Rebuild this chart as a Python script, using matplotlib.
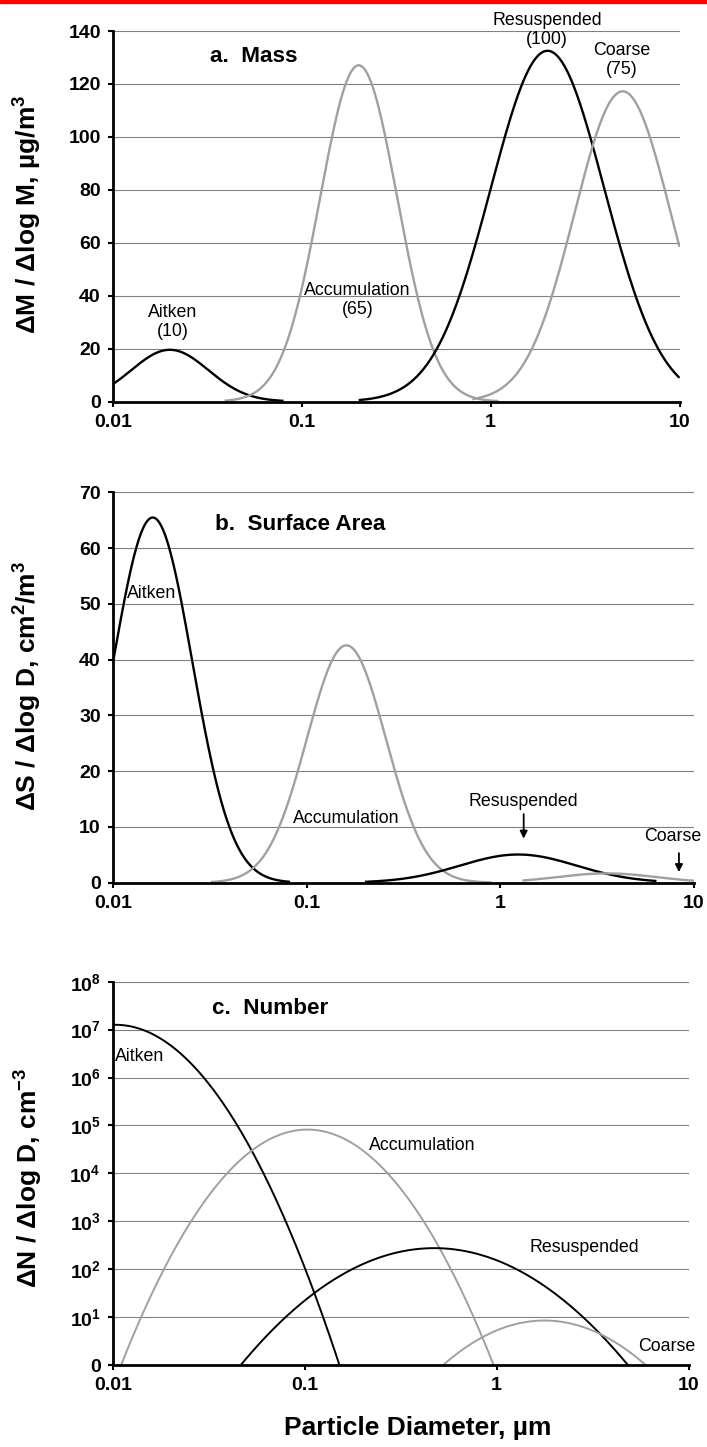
import numpy as np
import matplotlib
matplotlib.use("Agg")
import matplotlib.pyplot as plt
from matplotlib.ticker import NullLocator
from matplotlib.patches import Rectangle

plt.rcParams['font.family'] = ['Liberation Sans', 'DejaVu Sans']
plt.rcParams['mathtext.fontset'] = 'custom'
plt.rcParams['mathtext.rm'] = 'Liberation Sans'
plt.rcParams['mathtext.bf'] = 'Liberation Sans:bold'
plt.rcParams['mathtext.default'] = 'bf'

# ---- lognormal aerosol modes ----
modes = ["Aitken", "Accumulation", "Resuspended", "Coarse"]
mass_conc = [10, 65, 100, 75]            # µg/m³ in each mode
mass_median_d = [0.02, 0.2, 2.0, 5.0]    # mass median diameter, µm
geo_std = [1.6, 1.6, 2.0, 1.8]           # geometric standard deviation
particle_density = 1.0                   # g/cm³
mode_colors = ["black", "#a0a0a0", "black", "#a0a0a0"]

# diameter range (µm) over which each mode is drawn, per panel
mass_span = [(0.01, 0.08), (0.039, 1.1), (0.2, 10.0), (0.8, 10.0)]
surface_span = [(0.01, 0.082), (0.032, 0.9), (0.2, 6.4), (1.3, 10.0)]
number_span = [(0.01, 10.0), (0.01, 10.0), (0.01, 10.0), (0.01, 10.0)]

size_ticks = [0.01, 0.1, 1, 10]
size_tick_labels = ["0.01", "0.1", "1", "10"]
mass_ticks = [0, 20, 40, 60, 80, 100, 120, 140]
surface_ticks = [0, 10, 20, 30, 40, 50, 60, 70]
number_ticks = [1, 1e1, 1e2, 1e3, 1e4, 1e5, 1e6, 1e7, 1e8]
number_tick_labels = ["0"] + [f"$10^{{{k}}}$" for k in range(1, 9)]


def lognormal(d, total, median, sg):
    s = np.log10(sg)
    return total / (np.sqrt(2 * np.pi) * s) * np.exp(-0.5 * (np.log10(d / median) / s) ** 2)


def mass_mode(d, i):
    return lognormal(d, mass_conc[i], mass_median_d[i], geo_std[i])


def surface_mode(d, i):
    ln2 = np.log(geo_std[i]) ** 2
    vol = mass_conc[i] * 1e-6 / particle_density            # cm³/m³
    d_sauter = mass_median_d[i] * 1e-4 * np.exp(-0.5 * ln2)  # cm
    total = 6.0 * vol / d_sauter                             # cm²/m³
    median = mass_median_d[i] * np.exp(-ln2)
    return lognormal(d, total, median, geo_std[i])


def number_mode(d, i):
    ln2 = np.log(geo_std[i]) ** 2
    vol = mass_conc[i] * 1e-6 / particle_density            # cm³/m³
    dn = mass_median_d[i] * np.exp(-3 * ln2)                 # µm
    total = vol / (np.pi / 6 * (dn * 1e-4) ** 3 * np.exp(4.5 * ln2)) / 1e6  # cm⁻³
    return lognormal(d, total, dn, geo_std[i])


W, H = 707, 1447
fig = plt.figure(figsize=(W / 100, H / 100), dpi=100)
fig.patch.set_facecolor('white')
fig.patches.append(Rectangle((0, 1 - 2.5 / H), 1, 2.5 / H, transform=fig.transFigure,
                             color='#ff0000', zorder=10))


def make_axes(left, right, top, bottom):
    return fig.add_axes([left / W, 1 - bottom / H, (right - left) / W, (bottom - top) / H])


def style(ax, yticks, ylabels):
    ax.set_xscale('log')
    ax.set_xlim(0.01, 10)
    ax.set_xticks(size_ticks, labels=size_tick_labels, fontweight='bold', fontsize=14)
    ax.xaxis.set_minor_locator(NullLocator())
    ax.set_yticks(yticks, labels=ylabels, fontweight='bold', fontsize=14)
    ax.yaxis.set_minor_locator(NullLocator())
    ax.set_ylim(yticks[0], yticks[-1])
    for s in ('top', 'right'):
        ax.spines[s].set_visible(False)
    for s in ('left', 'bottom'):
        ax.spines[s].set_linewidth(2.0)
    ax.tick_params(direction='out', length=3.8, width=1.5, pad=5)
    ax.yaxis.grid(True, color='#808080', lw=0.8)
    ax.set_axisbelow(True)


def draw(ax, func, spans, lw):
    for i in range(len(modes)):
        d = np.logspace(np.log10(spans[i][0]), np.log10(spans[i][1]), 600)
        ax.plot(d, func(d, i), color=mode_colors[i], lw=lw, solid_capstyle='butt')


label_kw = dict(fontsize=12.8, ha='center', va='center', linespacing=1.15)
title_kw = dict(fontsize=16.2, fontweight='bold', ha='left', va='center')
ylab_kw = dict(fontsize=19, fontweight='bold', rotation=90, ha='center', va='center')

# ---- a. Mass ----
ax1 = make_axes(113, 679.5, 31, 401.5)
style(ax1, mass_ticks, [str(t) for t in mass_ticks])
draw(ax1, mass_mode, mass_span, 1.7)
ax1.text(0.0328, 130.2, "a.  Mass", **title_kw)
mass_label_pos = [(0.0207, 29.9), (0.197, 38.5), (1.99, 140.2), (4.97, 129.1)]
for i, (x, y) in enumerate(mass_label_pos):
    ax1.text(x, y, f"{modes[i]}\n({mass_conc[i]})", **label_kw)
fig.text(28 / W, 1 - 214 / H, "ΔM / Δlog M, µg/m$^{3}$", **ylab_kw)

# ---- b. Surface Area ----
ax2 = make_axes(113, 694, 492.3, 882.7)
style(ax2, surface_ticks, [str(t) for t in surface_ticks])
draw(ax2, surface_mode, surface_span, 1.7)
ax2.text(0.0338, 64.3, "b.  Surface Area", **title_kw)
ax2.text(0.0159, 51.8, modes[0], **label_kw)
ax2.text(0.1596, 11.6, modes[1], **label_kw)
ax2.text(1.309, 14.5, modes[2], **label_kw)
ax2.text(7.78, 8.2, modes[3], **label_kw)
arrow_kw = dict(arrowstyle='-|>', color='black', lw=1.3, mutation_scale=11,
                shrinkA=0, shrinkB=0)
ax2.annotate('', xy=(1.32, 7.9), xytext=(1.32, 12.3), arrowprops=arrow_kw)
ax2.annotate('', xy=(8.36, 1.9), xytext=(8.36, 5.3), arrowprops=arrow_kw)
fig.text(28 / W, 1 - 686 / H, "ΔS / Δlog D, cm$^{2}$/m$^{3}$", **ylab_kw)

# ---- c. Number ----
ax3 = make_axes(113, 688.5, 981.7, 1365)
ax3.set_yscale('log')
style(ax3, number_ticks, number_tick_labels)
draw(ax3, number_mode, number_span, 1.4)
ax3.text(0.0328, 2.8e7, "c.  Number", **title_kw)
ax3.text(0.01025, 2.7e6, modes[0], fontsize=12.8, ha='left', va='center')
ax3.text(0.408, 3.9e4, modes[1], **label_kw)
ax3.text(2.86, 290, modes[2], **label_kw)
ax3.text(7.73, 2.38, modes[3], **label_kw)
fig.text(29 / W, 1 - 1178 / H, "ΔN / Δlog D, cm$^{-3}$", **ylab_kw)

fig.text(418 / W, 1 - 1428 / H, "Particle Diameter, µm", fontsize=19,
         fontweight='bold', ha='center', va='center')

fig.savefig("out.png", dpi=100)
